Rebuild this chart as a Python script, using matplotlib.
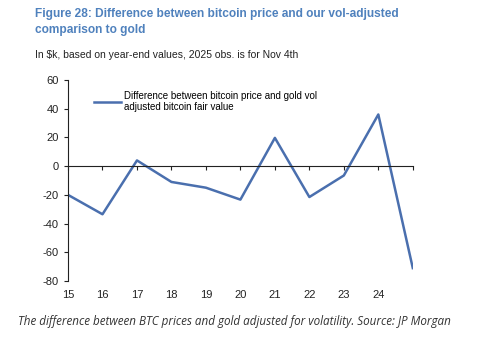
import matplotlib
matplotlib.use("Agg")
import matplotlib.pyplot as plt
import matplotlib.transforms as mtransforms

plt.rcParams["font.family"] = ["Liberation Sans", "DejaVu Sans"]
plt.rcParams["axes.unicode_minus"] = False

# ── Data ($k, year-end; 2025 obs. is for Nov 4th) ─────────────────────────────
years = [15, 16, 17, 18, 19, 20, 21, 22, 23, 24, 25]
difference = [-20, -33.5, 4, -11, -15, -23.3, 19.7, -21.5, -6.5, 36, -71]
tick_labels = ["15", "16", "17", "18", "19", "20", "21", "22", "23", "24", ""]

LINE_BLUE = "#4a6fae"
TITLE_BLUE = "#4f81bd"

fig = plt.figure(figsize=(4.8, 3.39), dpi=100)
ax = fig.add_axes([0.1417, 0.171, 0.7183, 0.593])

ax.plot(years, difference, color=LINE_BLUE, linewidth=1.8,
        label="Difference between bitcoin price and gold vol\nadjusted bitcoin fair value")

ax.set_xlim(15, 25)
ax.set_ylim(-80, 60)
ax.set_yticks(range(-80, 61, 20))
ax.set_xticks(years)
ax.set_xticklabels([])

for side in ["top", "right"]:
    ax.spines[side].set_visible(False)
ax.spines["bottom"].set_position(("data", 0))
ax.spines["bottom"].set_color("#222222")
ax.spines["left"].set_color("#222222")
ax.tick_params(axis="both", direction="out", length=3, color="#222222",
               labelsize=8, labelcolor="#222222")

# x labels sit below the plot, not on the zero line
trans = mtransforms.blended_transform_factory(ax.transData, ax.transAxes)
for x, lab in zip(years, tick_labels):
    ax.text(x, -0.045, lab, transform=trans, ha="center", va="top",
            fontsize=8, color="#222222")

ax.legend(loc="upper left", bbox_to_anchor=(0.06, 0.97), frameon=False,
          fontsize=7, handlelength=2.8, handletextpad=0.35, borderpad=0)

fig.text(0.073, 0.975, "Figure 28: Difference between bitcoin price and our vol-adjusted\ncomparison to gold",
         color=TITLE_BLUE, fontsize=8.6, fontweight="bold", ha="left", va="top",
         linespacing=1.35)
fig.text(0.073, 0.838, "In $k, based on year-end values, 2025 obs. is for Nov 4th",
         fontsize=7.5, color="#222222", ha="left", va="center")
fig.text(0.037, 0.053, "The difference between BTC prices and gold adjusted for volatility. Source: JP Morgan",
         family="Open Sans", style="italic", fontsize=8.4, color="#333333",
         ha="left", va="center")

fig.savefig("out.png", dpi=100)
